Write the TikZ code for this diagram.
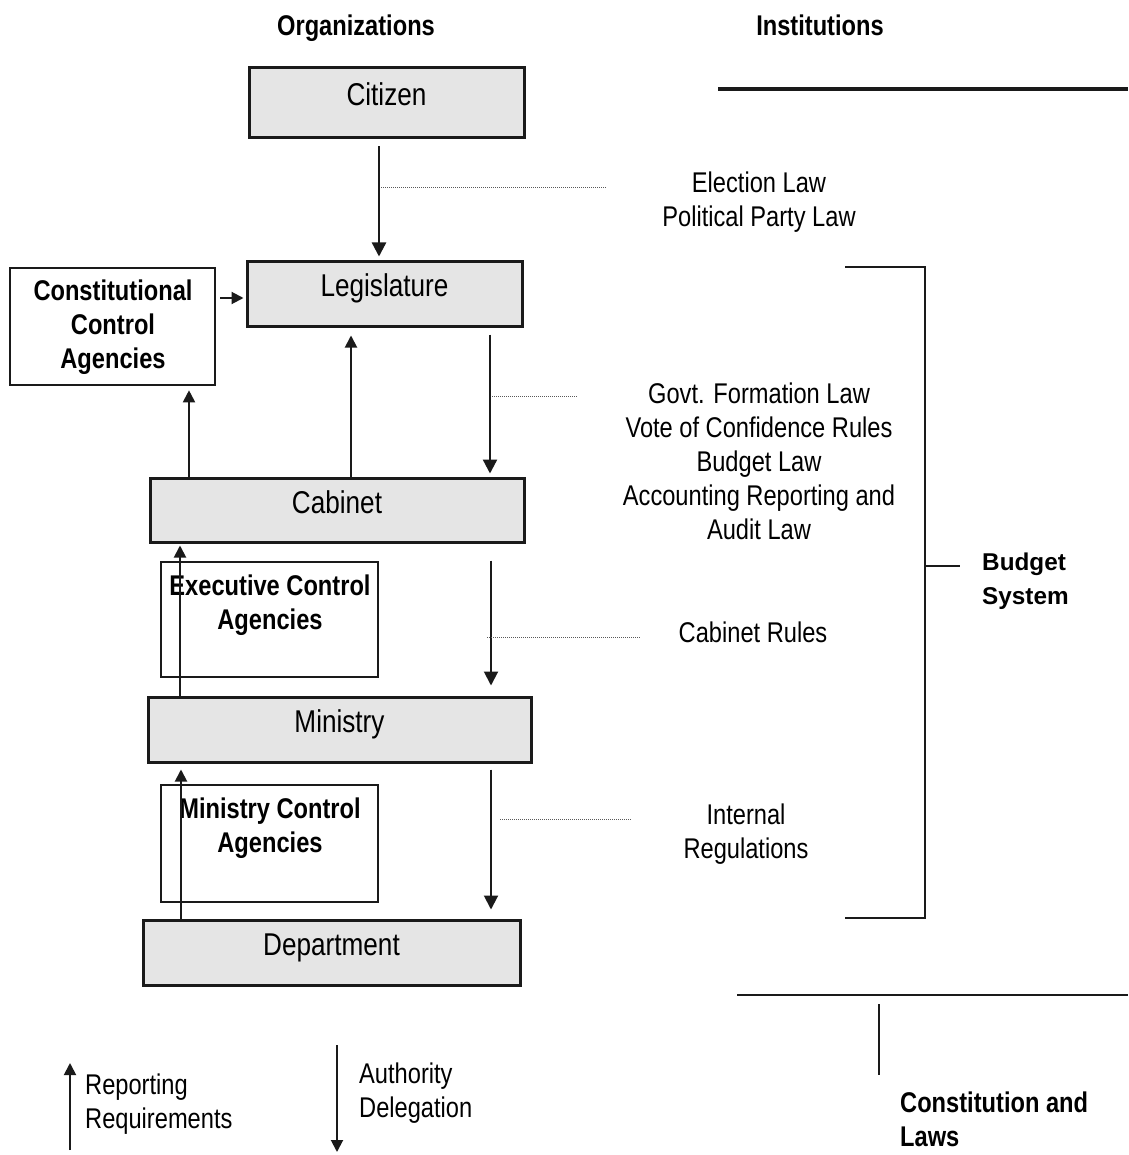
\documentclass[tikz,border=0pt]{standalone}
\usepackage{fontspec}
\setmainfont{Liberation Sans}[FakeStretch=0.83]
\newfontfamily\widesans{Liberation Sans}
\usetikzlibrary{arrows.meta,calc}
\definecolor{boxgray}{HTML}{E5E5E5}
\definecolor{edge}{HTML}{1A1A1A}
\newcommand{\labelsize}{\fontsize{28.5pt}{34pt}\selectfont}
\newcommand{\boxsize}{\fontsize{31.5pt}{36pt}\selectfont}
\newcommand{\widesize}{\fontsize{24.3pt}{34pt}\selectfont}
\tikzset{
  orgbox/.style={draw=edge, line width=3pt, fill=boxgray, inner sep=0pt,
    font=\boxsize, text height=22pt, text depth=16pt},
  ctrlbox/.style={draw=edge, line width=2.6pt, fill=white, inner sep=0pt},
  lbl/.style={font=\labelsize, inner sep=0pt, align=center},
  blbl/.style={font=\labelsize\bfseries, inner sep=0pt, align=center},
  arrdown/.style={-{Triangle[length=14pt,width=14pt]}, line width=2.4pt, draw=edge},
  arrup/.style={-{Triangle[length=12pt,width=12pt]}, line width=1.9pt, draw=edge},
  guide/.style={line width=1pt, draw=black!65, dash pattern=on 1pt off 1pt},
  rulestroke/.style={line width=2.6pt, draw=edge},
}
\begin{document}
\begin{tikzpicture}[x=1pt, y=-1pt]
\useasboundingbox (0,0) rectangle (1128,1155);

% column headings
\node[blbl] (hOrg) at (356,28) {Organizations};
\node[blbl] (hInst) at (820,25) {Institutions};
\draw[line width=3.5pt, draw=edge] (718,89) -- (1128,89);

% organisations
\node[orgbox, minimum width=275pt, minimum height=70pt] (citizen) at (386.5,103) {Citizen};
\node[orgbox, minimum width=275pt, minimum height=64pt] (legis) at (384.5,294) {Legislature};
\node[orgbox, minimum width=374pt, minimum height=64pt] (cabinet) at (337,510) {Cabinet};
\node[orgbox, minimum width=383pt, minimum height=65pt] (ministry) at (339.5,729.5) {Ministry};
\node[orgbox, minimum width=377pt, minimum height=65pt] (dept) at (331.5,952.5) {Department};

% control agencies
\node[ctrlbox, minimum width=205pt, minimum height=117pt] (constctrl) at (112.5,326.5) {};
\node[blbl] (constlbl) at (113,327) {Constitutional\\Control\\Agencies};
\node[ctrlbox, minimum width=217pt, minimum height=115pt] (execctrl) at (269.5,619.5) {};
\node[blbl] (execlbl) at (270,605) {Executive Control\\Agencies};
\node[ctrlbox, minimum width=217pt, minimum height=117pt] (minctrl) at (269.5,843.5) {};
\node[blbl] (minlbl) at (270,828.5) {Ministry Control\\Agencies};

% delegation and reporting arrows
\draw[arrdown] ($(citizen.south)+(-7.5,7)$) coordinate (czArr) -- ($(legis.north)+(-5.5,-4)$);
\draw[arrdown, line width=2pt, -{Triangle[length=12pt,width=12pt]}] ($(constctrl.east)+(4,-28.5)$) -- ($(legis.west)+(-2,4)$);
\draw[arrup] ($(cabinet.north)+(14,0)$) -- ($(legis.south)+(-33.5,8)$);
\draw[arrup] ($(cabinet.north)+(-148,0)$) -- ($(constctrl.south)+(76.5,4)$);
\draw[arrdown] ($(legis.south)+(105.5,7)$) coordinate (lgArr) -- ($(cabinet.north)+(153,-3)$);
\draw[arrup] ($(ministry.north)+(-159.5,0)$) -- ($(cabinet.south)+(-157,2)$);
\draw[arrdown, line width=2pt] ($(cabinet.south)+(154,17)$) coordinate (cbArr) -- ($(ministry.north)+(151.5,-10)$);
\draw[arrup] ($(dept.north)+(-150.5,0)$) -- ($(ministry.south)+(-158.5,6)$);
\draw[arrdown, line width=2pt] ($(ministry.south)+(151.5,6)$) coordinate (mnArr) -- ($(dept.north)+(159.5,-9)$);

% institutions governing each link
\coordinate (g1) at (607,188);
\coordinate (g2) at (578,396);
\coordinate (g3) at (640,637);
\coordinate (g4) at (632,819);
\draw[guide] (381,188) -- (g1);
\draw[guide] (492,396) -- (g2);
\draw[guide] (487,637) -- (g3);
\draw[guide] (500,819) -- (g4);

\node[lbl] (elect) at (759,202) {Election Law\\Political Party Law};
\node[lbl] (govt) at (759,461.5) {Govt. Formation Law\\Vote of Confidence Rules\\Budget Law\\Accounting Reporting and\\Audit Law};
\node[lbl] (cabrules) at (753,632) {Cabinet Rules};
\node[lbl] (intreg) at (746,834) {Internal\\Regulations};

% budget system bracket
\draw[rulestroke] (845,267) -- (925,267) -- (925,918) -- (845,918);
\draw[rulestroke] (925,566) -- (960,566);
\node[font=\widesize\widesans\bfseries, inner sep=0pt, align=left, anchor=west] (budget) at (982,581) {Budget\\System};

% constitution and laws
\draw[line width=2.4pt, draw=edge] (737,995) -- (1128,995);
\draw[line width=2.4pt, draw=edge] (879,1004) -- (879,1075);
\node[blbl, align=left, anchor=west] (constlaws) at (900,1119) {Constitution and\\Laws};

% legend
\coordinate (lgUpA) at (70,1150);
\coordinate (lgUpB) at (70,1063);
\coordinate (lgDnA) at (337,1045);
\coordinate (lgDnB) at (337,1152);
\draw[arrup] (lgUpA) -- (lgUpB);
\draw[arrup] (lgDnA) -- (lgDnB);
\node[lbl, align=left, anchor=west] (reportlbl) at (85,1104) {Reporting\\Requirements};
\node[lbl, align=left, anchor=west] (authlbl) at (359,1093) {Authority\\Delegation};
\end{tikzpicture}
\end{document}
